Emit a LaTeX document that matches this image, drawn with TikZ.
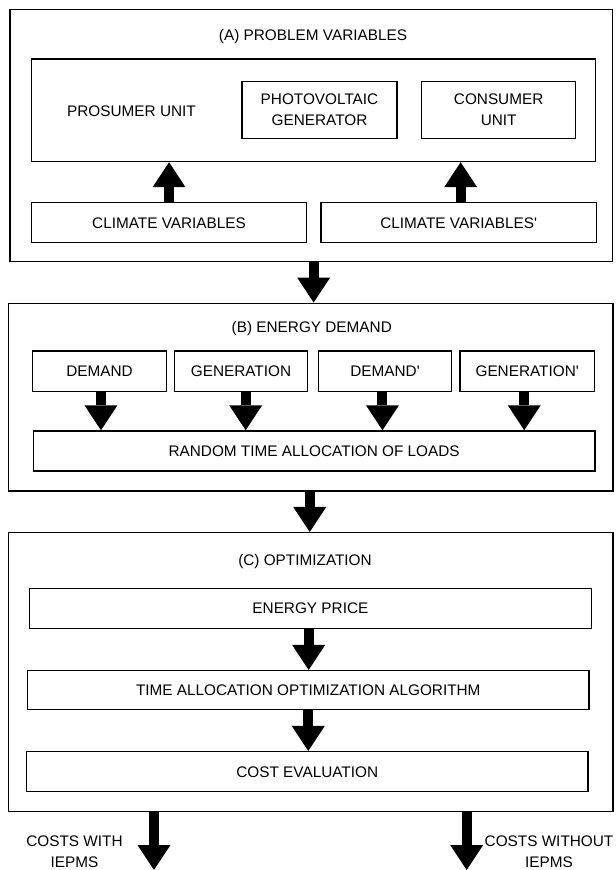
\documentclass[tikz,border=0pt]{standalone}
\usepackage{fontspec}
\setmainfont{Liberation Sans}[Ligatures=TeXOff]
\usetikzlibrary{arrows.meta,fit}
\newcommand\myfs{\fontsize{11.5}{16}\selectfont}
\tikzset{
  box/.style={draw=black, line width=1.1pt, inner sep=0pt},
  lbl/.style={font=\myfs, inner sep=0pt, text height=8.25pt, text depth=0pt},
  lbltwo/.style={font=\myfs, inner sep=0pt, align=center},
  bigarrow/.style={line width=7.5pt, -{Triangle[length=18.75pt,width=24.75pt,line width=0pt]}},
}
\begin{document}
\begin{tikzpicture}[x=0.75pt,y=-0.75pt]
\useasboundingbox (0,0) rectangle (615,870);
% ---- (A)
\node[box, fit={(10,9.5)(612.5,261.5)}] (A) {};
\node[lbl] (tA) at (313,35) {(A) PROBLEM VARIABLES};
\node[box, fit={(31.5,59)(595.5,161.5)}] (pros) {};
\node[lbl] (prosL) at (131.5,111.5) {PROSUMER UNIT};
\node[box, fit={(242,81.7)(397,138.3)}] (pv) {};
\node[lbltwo] (pvT) at (pv) {PHOTOVOLTAIC\\GENERATOR};
\node[box, fit={(421.6,81.7)(575.7,138.3)}] (cons) {};
\node[lbltwo] (consT) at (cons) {CONSUMER\\UNIT};
\node[box, fit={(31.4,202.7)(306.7,242.3)}] (climL) {};
\node[lbl] (climLT) at (climL) {CLIMATE VARIABLES};
\node[box, fit={(320.8,202.7)(596.5,242.3)}] (climR) {};
\node[lbl] (climRT) at (climR) {CLIMATE VARIABLES'};
\draw[bigarrow] (climL.north) -- (climL.north |- pros.south);
\draw[bigarrow] ([xshift=1.5pt]climR.north) -- ([xshift=1.5pt]climR.north |- pros.south);
% ---- (B)
\node[box, fit={(8.6,303.3)(613,491)}] (B) {};
\node[lbl] (tB) at (311.8,326.7) {(B) ENERGY DEMAND};
\node[box, fit={(32.3,351)(166.7,391.5)}] (dem) {};
\node[lbl] (demT) at (dem) {DEMAND};
\node[box, fit={(174.7,351)(307.3,391.5)}] (gen) {};
\node[lbl] (genT) at (gen) {GENERATION};
\node[box, fit={(318.3,351)(451.7,391.5)}] (demp) {};
\node[lbl] (dempT) at (demp) {DEMAND'};
\node[box, fit={(460,351)(594.3,391.5)}] (genp) {};
\node[lbl] (genpT) at (genp) {GENERATION'};
\node[box, fit={(33.3,431)(595,471)}] (rand) {};
\node[lbl] (randT) at (rand) {RANDOM TIME ALLOCATION OF LOADS};
\draw[bigarrow] ([xshift=1.1pt]dem.south) -- ([xshift=1.1pt]dem.south |- rand.north);
\draw[bigarrow] ([xshift=3.5pt]gen.south) -- ([xshift=3.5pt]gen.south |- rand.north);
\draw[bigarrow] ([xshift=-1.9pt]demp.south) -- ([xshift=-1.9pt]demp.south |- rand.north);
\draw[bigarrow] ([xshift=-2.2pt]genp.south) -- ([xshift=-2.2pt]genp.south |- rand.north);
\draw[bigarrow] ([xshift=1.8pt]A.south) -- ([xshift=1.8pt]A.south |- B.north);
% ---- (C)
\node[box, fit={(8.6,532.7)(613,811.5)}] (C) {};
\node[lbl] (tC) at (305,560) {(C) OPTIMIZATION};
\node[box, fit={(29.4,588.3)(591.4,628.3)}] (price) {};
\node[lbl] (priceT) at (price) {ENERGY PRICE};
\node[box, fit={(27.5,670.7)(589,709.3)}] (time) {};
\node[lbl] (timeT) at (time) {TIME ALLOCATION OPTIMIZATION ALGORITHM};
\node[box, fit={(26.3,751.7)(588.2,791.7)}] (cost) {};
\node[lbl] (costT) at (cost) {COST EVALUATION};
\draw[bigarrow] ([xshift=-1.3pt]price.south) -- ([xshift=-1.3pt]price.south |- time.north);
\draw[bigarrow] (time.south) -- (time.south |- cost.north);
\draw[bigarrow] ([xshift=-0.8pt]B.south) -- ([xshift=-0.8pt]B.south |- C.north);
% ---- outputs
\coordinate (endL) at (154,870);
\coordinate (endR) at (466.7,870);
\draw[bigarrow] (C.south -| endL) -- (endL);
\draw[bigarrow] (C.south -| endR) -- (endR);
\node[lbltwo] (outL) at (74.5,852) {COSTS WITH\\IEPMS};
\node[lbltwo] (outR) at (549,852) {COSTS WITHOUT\\IEPMS};
\end{tikzpicture}
\end{document}
